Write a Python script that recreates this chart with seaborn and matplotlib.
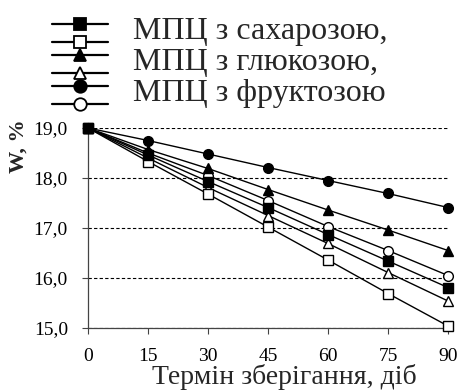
import numpy as np
import matplotlib
matplotlib.use("Agg")
import matplotlib.pyplot as plt
import seaborn as sns
from matplotlib.lines import Line2D
from matplotlib.legend_handler import HandlerBase
from matplotlib.ticker import FuncFormatter

# storage time, days
days = [0, 15, 30, 45, 60, 75, 90]

# moisture W, % (filled / open markers per sugar)
sucrose_a = [19.0, 18.46, 17.93, 17.41, 16.87, 16.34, 15.81]
sucrose_b = [19.0, 18.33, 17.68, 17.02, 16.36, 15.69, 15.04]
glucose_a = [19.0, 18.57, 18.19, 17.77, 17.36, 16.96, 16.55]
glucose_b = [19.0, 18.40, 17.81, 17.25, 16.69, 16.11, 15.54]
fructose_a = [19.0, 18.75, 18.48, 18.21, 17.95, 17.69, 17.41]
fructose_b = [19.0, 18.50, 18.05, 17.55, 17.03, 16.55, 16.05]

labels = ["МПЦ з сахарозою,", "МПЦ з глюкозою,", "МПЦ з фруктозою"]

sns.set_style("ticks")
plt.rcParams["font.family"] = ["Liberation Serif", "DejaVu Serif"]

fig = plt.figure(figsize=(4.61, 3.91), dpi=100)
ax = fig.add_axes([88 / 461, 63 / 391, 360 / 461, 200 / 391])

series = [
    (fructose_b, "o", "white"), (fructose_a, "o", "k"),
    (glucose_b, "^", "white"), (glucose_a, "^", "k"),
    (sucrose_b, "s", "white"), (sucrose_a, "s", "k"),
]
for vals, mk, fc in series:
    sns.lineplot(x=days, y=vals, ax=ax, color="k", lw=1.0, marker=mk,
                 markersize=7, markerfacecolor=fc, markeredgecolor="k",
                 markeredgewidth=1.0, clip_on=False, zorder=3)

ax.set_xlim(0, 90)
ax.set_ylim(15, 19)
ax.set_xticks(days)
ax.set_yticks([15, 16, 17, 18, 19])
ax.yaxis.set_major_formatter(FuncFormatter(lambda v, p: f"{v:.1f}".replace(".", ",")))
ax.grid(axis="y", color="k", lw=0.8, linestyle=(0, (3, 2)))
ax.grid(axis="x", visible=False)
for s in ["top", "right"]:
    ax.spines[s].set_visible(False)
for s in ["left", "bottom"]:
    ax.spines[s].set_color("#444444")
    ax.spines[s].set_linewidth(0.9)
ax.tick_params(axis="both", direction="out", length=4.5, width=0.8,
               color="#444444", labelsize=14, labelcolor="k")
ax.tick_params(axis="y", pad=10)
ax.tick_params(axis="x", pad=10)

ax.set_xlabel("Термін зберігання, діб", fontsize=20)
ax.xaxis.set_label_coords(0.545, -0.18)
ax.set_ylabel("W, %", fontsize=16, fontweight="bold")
ax.yaxis.set_label_coords(-0.165, 0.91)


class PairHandler(HandlerBase):
    def create_artists(self, legend, orig_handle, xdescent, ydescent,
                       width, height, fontsize, trans):
        mk = orig_handle
        arts = []
        mid = height * 0.5 - 2.5
        for yy, fc in ((mid + 6.5, "k"), (mid - 6.5, "white")):
            ln = Line2D([-xdescent, -xdescent + width], [yy, yy], color="k",
                        lw=1.6, transform=trans)
            pt = Line2D([-xdescent + width / 2], [yy], marker=mk, markersize=9,
                        markerfacecolor=fc, markeredgecolor="k",
                        markeredgewidth=1.3, linestyle="none", transform=trans)
            arts += [ln, pt]
        return arts


class Mk(str):
    pass


handles = [Mk("s"), Mk("^"), Mk("o")]
fig.legend(handles, labels, handler_map={Mk: PairHandler()},
           loc="upper left", bbox_to_anchor=(52 / 461, 1 - 17 / 391),
           frameon=False, fontsize=23, borderpad=0, borderaxespad=0,
           handlelength=1.75, handleheight=0.5, handletextpad=0.78,
           labelspacing=0.06)

fig.savefig("out.png", dpi=100)
